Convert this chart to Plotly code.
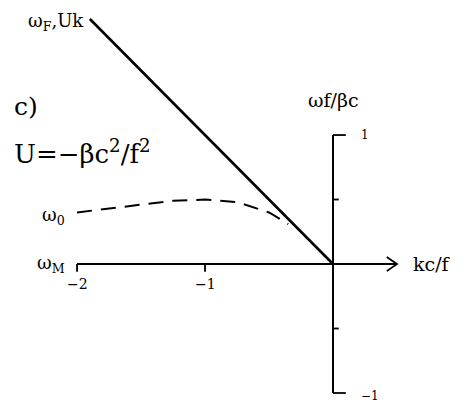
import plotly.graph_objects as go

# Non-dimensional wavenumber kc/f and frequency ωf/βc
k_line = [-1.9, 0.0]            # Doppler line ω = Uk
w_line = [1.9, 0.0]

k_rossby = [-2.0, -1.75, -1.5, -1.25, -1.0, -0.75, -0.5, -0.35]   # ω0 branch
w_rossby = [0.40, 0.43, 0.46, 0.49, 0.50, 0.48, 0.40, 0.31]

x_ticks = [-2, -1]
x_tick_labels = ["\u22122", "\u22121"]
y_ticks = [-1.0, -0.5, 0.5, 1.0]
y_tick_labels = {1.0: "1", -1.0: "\u22121"}

FONT = "DejaVu Serif"
INK = "black"

fig = go.Figure()

def seg(xs, ys, width=2.0, dash="solid"):
    fig.add_trace(go.Scatter(x=xs, y=ys, mode="lines",
                             line=dict(color=INK, width=width, dash=dash),
                             hoverinfo="skip", showlegend=False))

# horizontal axis with arrow
seg([x_ticks[0], 0.5], [0, 0], 2.0)
seg([0.42, 0.5, 0.42], [0.055, 0, -0.055], 1.8)
# vertical axis
seg([0, 0], [y_ticks[0], y_ticks[-1]], 2.0)

# ticks on horizontal axis
for xv in x_ticks:
    seg([xv, xv], [0, -0.06], 1.8)
# ticks on vertical axis
for yv in y_ticks:
    L = 0.1 if abs(yv) == 1.0 else 0.045
    seg([0, L], [yv, yv], 1.8)

# curves
seg(k_line, w_line, 2.6)
seg(k_rossby, w_rossby, 2.0, dash="15px,9px")

def label(x, y, text, size, xanchor="center", yanchor="middle"):
    fig.add_annotation(x=x, y=y, text=text, showarrow=False,
                       xanchor=xanchor, yanchor=yanchor,
                       font=dict(family=FONT, size=size, color=INK))

label(-1.93, 1.88, "\u03c9<sub>F</sub>,Uk", 18, xanchor="right")
label(-2.51, 1.22, "c)", 25, xanchor="left")
label(-2.51, 0.87, "U=\u2212\u03b2c<sup>2</sup>/f<sup>2</sup>", 26, xanchor="left")
label(-2.08, 0.37, "\u03c9<sub>0</sub>", 18, xanchor="right")
label(-2.08, 0.0, "\u03c9<sub>M</sub>", 18, xanchor="right")
for xv, t in zip(x_ticks, x_tick_labels):
    label(xv, -0.155, t, 14)
label(0.0, 1.27, "\u03c9f/\u03b2c", 19)
for yv, t in y_tick_labels.items():
    label(0.2, yv - (0.02 if yv < 0 else 0), t, 12, xanchor="left")
label(0.61, 0.0, "kc/f", 19, xanchor="left")

fig.update_layout(
    width=467, height=405,
    margin=dict(l=0, r=0, t=0, b=0),
    paper_bgcolor="white", plot_bgcolor="white",
    xaxis=dict(range=[-2.602, 1.047], visible=False, fixedrange=True),
    yaxis=dict(range=[-1.093, 2.047], visible=False, fixedrange=True),
)

fig.write_html("out.html")
